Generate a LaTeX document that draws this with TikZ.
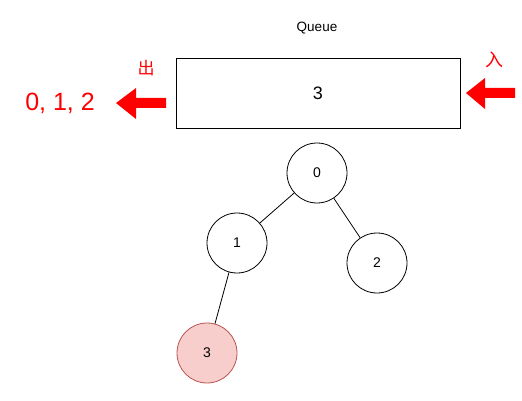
\documentclass[tikz,border=0pt]{standalone}
\usepackage{fontspec}
\setmainfont{Liberation Sans}
\newfontfamily\cjk{Noto Sans CJK SC}
\definecolor{pinkfill}{HTML}{F8CECC}
\definecolor{pinkline}{HTML}{B85450}
\tikzset{
  treenode/.style={draw,circle,minimum size=60pt,inner sep=0pt,line width=0.8pt,font=\fontsize{14}{14}\selectfont},
  hitnode/.style={treenode,fill=pinkfill,draw=pinkline},
  redtext/.style={text=red},
}
\begin{document}
\begin{tikzpicture}[x=1pt,y=-1pt]
\useasboundingbox (0,0) rectangle (522,401);
\node (qlabel) at (317,28) {\fontsize{13.5}{13.5}\selectfont Queue};
%queue
\node (queue) [draw,line width=0.8pt,minimum width=284pt,minimum height=70pt,font=\fontsize{18}{18}\selectfont] at (318,93) {3};

%out
\node (out) [redtext] at (146,68) {\cjk\fontsize{17}{17}\selectfont 出};
\node (done) [redtext] at (60,103) {\fontsize{25}{25}\selectfont 0, 1, 2};
\fill[red] (166,98) -- (136,98) -- (136,88) -- (116,103) -- (136,119) -- (136,108) -- (166,108) -- cycle;

%in
\node (in) [redtext] at (494,60) {\cjk\fontsize{18}{18}\selectfont 入};
\fill[red] (515,88) -- (485,88) -- (485,78) -- (466,93) -- (485,109) -- (485,98) -- (515,98) -- cycle;

%tree
\node (n0) [treenode] at (317,173) {0};
\node (n1) [treenode] at (237,243) {1};
\node (n2) [treenode] at (377,263) {2};
\node (n3) [hitnode] at (207,353) {3};
\draw[line width=0.8pt] (n0) -- (n1);
\draw[line width=0.8pt] (n0) -- (n2);
\draw[line width=0.8pt] (n1) -- (n3);
\end{tikzpicture}
\end{document}
